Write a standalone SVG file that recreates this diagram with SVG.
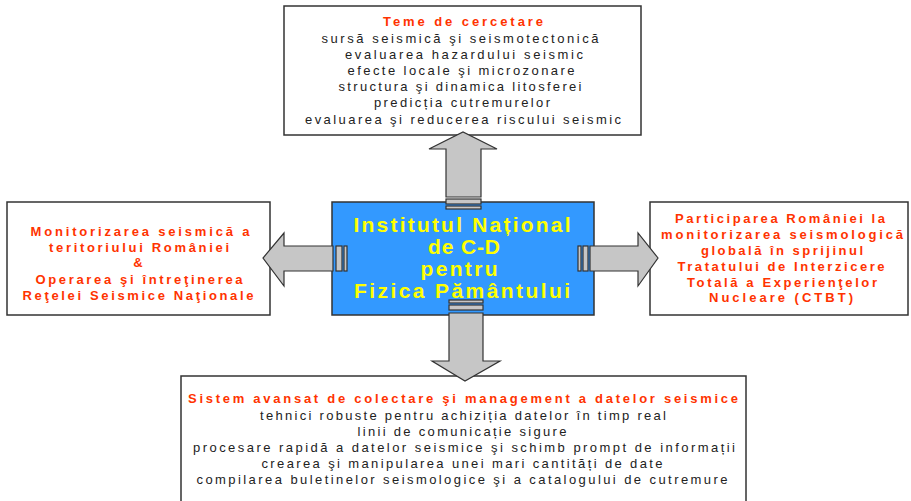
<svg xmlns="http://www.w3.org/2000/svg" width="911" height="501" viewBox="0 0 911 501">
<style>
.box{fill:#fff;stroke:#333;stroke-width:1.5}
.center{fill:#3399ff;stroke:#333;stroke-width:1.5}
.arrow{fill:#c6c6c6;stroke:#333;stroke-width:1.2;stroke-linejoin:miter}
.band{fill:#c6c6c6;stroke:#333;stroke-width:1.2}
text{font-family:"Liberation Sans",Arial,sans-serif;text-anchor:middle}
.red{fill:#ff3300;font-weight:bold;font-size:13px}
.grey{fill:#222;font-size:13px}
.yellow{fill:#ffff00;font-weight:bold;font-size:21px}
</style>
<rect width="911" height="501" fill="#fff"/>
<g id="node-top">
  <rect class="box" x="284" y="6" width="357" height="129"/>
  <text class="red" x="463" y="26" textLength="160" lengthAdjust="spacing">Teme de cercetare</text>
  <text class="grey" x="460" y="43" textLength="277" lengthAdjust="spacing">sursă seismică şi seismotectonică</text>
  <text class="grey" x="464" y="59" textLength="238" lengthAdjust="spacing">evaluarea hazardului seismic</text>
  <text class="grey" x="461" y="75" textLength="227" lengthAdjust="spacing">efecte locale şi microzonare</text>
  <text class="grey" x="460" y="91" textLength="243" lengthAdjust="spacing">structura şi dinamica litosferei</text>
  <text class="grey" x="462" y="107" textLength="176" lengthAdjust="spacing">predicția cutremurelor</text>
  <text class="grey" x="463" y="124" textLength="316" lengthAdjust="spacing">evaluarea şi reducerea riscului seismic</text>
</g>
<g id="node-center">
  <rect class="center" x="332" y="202" width="262" height="113"/>
  <text class="yellow" x="462" y="232" textLength="217" lengthAdjust="spacing">Institutul Național</text>
  <text class="yellow" x="464" y="254" textLength="72" lengthAdjust="spacing">de C-D</text>
  <text class="yellow" x="459" y="276" textLength="77" lengthAdjust="spacing">pentru</text>
  <text class="yellow" x="462" y="298" textLength="216" lengthAdjust="spacing">Fizica Pământului</text>
</g>
<g id="node-left">
  <rect class="box" x="7" y="202" width="263" height="113"/>
  <text class="red" x="140" y="236" textLength="219" lengthAdjust="spacing">Monitorizarea seismică a</text>
  <text class="red" x="139" y="252" textLength="180" lengthAdjust="spacing">teritoriului României</text>
  <text class="red" x="138" y="267">&amp;</text>
  <text class="red" x="139" y="284" textLength="207" lengthAdjust="spacing">Operarea şi întreţinerea</text>
  <text class="red" x="138" y="300" textLength="231" lengthAdjust="spacing">Reţelei Seismice Naţionale</text>
</g>
<g id="node-right">
  <rect class="box" x="650" y="202" width="258" height="113"/>
  <text class="red" x="780" y="223" textLength="210" lengthAdjust="spacing">Participarea României la</text>
  <text class="red" x="782" y="239" textLength="242" lengthAdjust="spacing">monitorizarea seismologică</text>
  <text class="red" x="782" y="255" textLength="162" lengthAdjust="spacing">globală în sprijinul</text>
  <text class="red" x="781" y="271" textLength="207" lengthAdjust="spacing">Tratatului de Interzicere</text>
  <text class="red" x="782" y="287" textLength="190" lengthAdjust="spacing">Totală a Experienţelor</text>
  <text class="red" x="781" y="302" textLength="144" lengthAdjust="spacing">Nucleare (CTBT)</text>
</g>
<g id="node-bottom">
  <rect class="box" x="181" y="376" width="565" height="140"/>
  <text class="red" x="463" y="403" textLength="550" lengthAdjust="spacing">Sistem avansat de colectare şi management a datelor seismice</text>
  <text class="grey" x="463" y="420" textLength="406" lengthAdjust="spacing">tehnici robuste pentru achiziția datelor în timp real</text>
  <text class="grey" x="462" y="436" textLength="209" lengthAdjust="spacing">linii de comunicație sigure</text>
  <text class="grey" x="464" y="452" textLength="542" lengthAdjust="spacing">procesare rapidă a datelor seismice şi schimb prompt de informații</text>
  <text class="grey" x="462" y="468" textLength="401" lengthAdjust="spacing">crearea şi manipularea unei mari cantități de date</text>
  <text class="grey" x="462" y="484" textLength="531" lengthAdjust="spacing">compilarea buletinelor seismologice şi a catalogului de cutremure</text>
</g>
<g id="connectors">
  <g id="arrow-up">
    <path class="arrow" d="M446,197 L446,149 L429,149 L463,132 L497,149 L481,149 L481,197 Z"/>
    <rect class="band" x="446" y="199" width="35" height="5"/>
    <rect class="band" x="446" y="206" width="35" height="3"/>
  </g>
  <g id="arrow-left">
    <path class="arrow" d="M333,246 L284,246 L284,233 L263,258 L284,286 L284,271 L333,271 Z"/>
    <rect class="band" x="336" y="246" width="6" height="25"/>
    <rect class="band" x="344" y="246" width="3" height="25"/>
  </g>
  <g id="arrow-right">
    <path class="arrow" d="M590,246 L638,246 L638,233 L658,258 L638,286 L638,271 L590,271 Z"/>
    <rect class="band" x="578" y="246" width="3" height="25"/>
    <rect class="band" x="583" y="246" width="5" height="25"/>
  </g>
  <g id="arrow-down">
    <path class="arrow" d="M449,313 L449,361 L432,361 L465,381 L500,361 L483,361 L483,313 Z"/>
    <rect class="band" x="449" y="300" width="34" height="3"/>
    <rect class="band" x="449" y="305" width="34" height="5"/>
  </g>
</g>
</svg>
